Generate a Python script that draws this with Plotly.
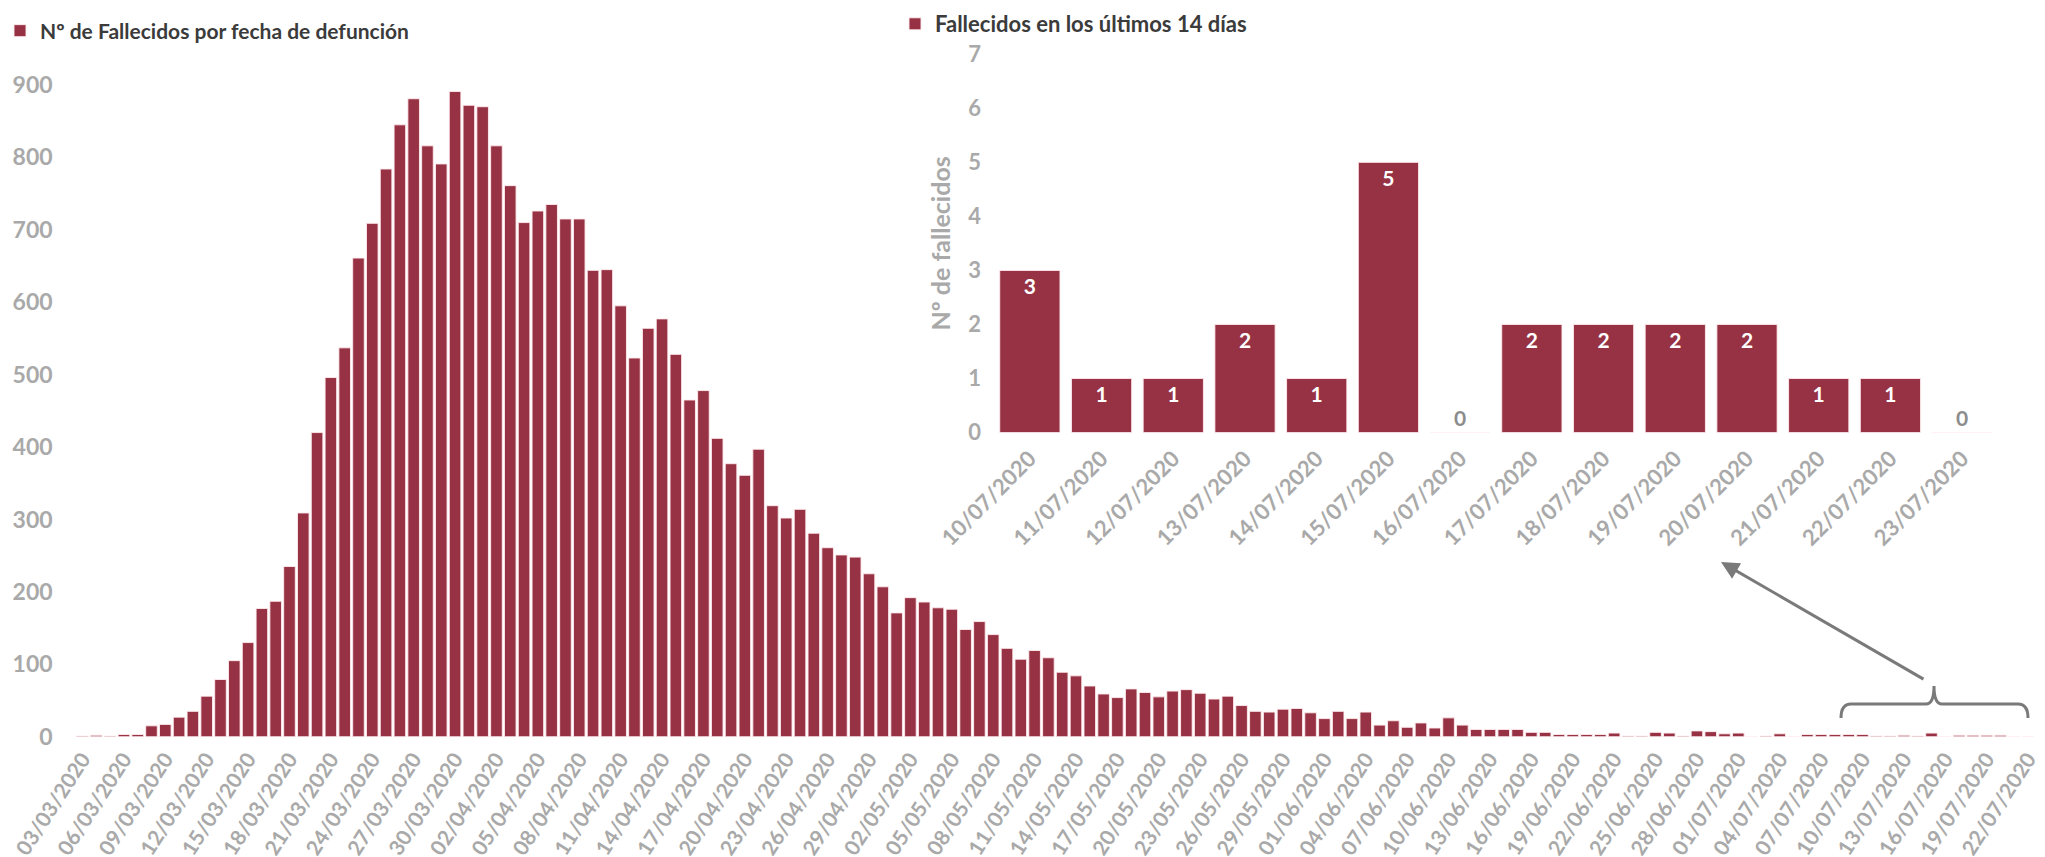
import datetime as dt
import plotly.graph_objects as go

# ---------------- data ----------------
inicio = dt.date(2020, 3, 3)
n_dias = 142
fechas = [(inicio + dt.timedelta(days=i)).strftime("%d/%m/%Y") for i in range(n_dias)]

fallecidos_marzo = [1, 2, 1, 3, 3, 15, 17, 27, 35, 56, 79, 105, 130, 177, 187, 235, 309, 420,
                    496, 537, 661, 709, 784, 845, 881, 816, 791, 891, 872]
fallecidos_abril = [870, 816, 761, 710, 726, 735, 715, 715, 644, 645, 595, 523, 564, 577, 528,
                    465, 478, 412, 377, 361, 397, 319, 302, 314, 281, 261, 251, 248, 225, 207]
fallecidos_mayo = [171, 192, 186, 178, 176, 148, 159, 141, 122, 107, 119, 109, 89, 84, 70, 59,
                   54, 66, 61, 55, 63, 65, 60, 52, 56, 43, 35, 34, 38, 39, 33]
fallecidos_junio = [25, 35, 25, 34, 16, 22, 13, 19, 12, 26, 16, 10, 10, 10, 10, 6, 6, 3, 3, 3,
                    3, 5, 1, 1, 6, 5, 1, 8, 7, 4]
fallecidos_julio = [5, 0, 1, 4, 0, 3, 3, 3, 3, 3, 1, 1, 2, 1, 5, 0, 2, 2, 2, 2, 0, 0]
fallecidos = fallecidos_marzo + fallecidos_abril + fallecidos_mayo + fallecidos_junio + fallecidos_julio

fechas_14 = ["10/07/2020", "11/07/2020", "12/07/2020", "13/07/2020", "14/07/2020",
             "15/07/2020", "16/07/2020", "17/07/2020", "18/07/2020", "19/07/2020",
             "20/07/2020", "21/07/2020", "22/07/2020", "23/07/2020"]
fallecidos_14 = [3, 1, 1, 2, 1, 5, 0, 2, 2, 2, 2, 1, 1, 0]

y_ticks_main = [0, 100, 200, 300, 400, 500, 600, 700, 800, 900]
y_ticks_inset = [0, 1, 2, 3, 4, 5, 6, 7]

# ---------------- style ----------------
W, H = 2045, 857
OFF = 8  # page body margin
BAR = "#963243"
GREY = "#a9a9a9"
DARK = "#3b3b3b"
FONT = "Lato"


def px_x(v):
    return (v - OFF) / W


def px_y(v):
    return 1 - (v - OFF) / H


fig = go.Figure()

fig.add_trace(go.Bar(
    x=fechas, y=fallecidos, name="Nº de Fallecidos por fecha de defunción",
    marker=dict(color=BAR, line=dict(color="rgba(255,235,238,0.9)", width=1)),
    xaxis="x", yaxis="y", legend="legend", hoverinfo="x+y",
))

txt_pos = ["outside" if v == 0 else "inside" for v in fallecidos_14]
txt_col = ["#8c8c8c" if v == 0 else "white" for v in fallecidos_14]
fig.add_trace(go.Bar(
    x=fechas_14, y=fallecidos_14, name="Fallecidos en los últimos 14 días",
    marker=dict(color=BAR, line=dict(color="rgba(255,235,238,0.9)", width=1)),
    text=[str(v) for v in fallecidos_14], textposition=txt_pos,
    insidetextanchor="end", textangle=0,
    textfont=dict(color=txt_col, size=21, family=FONT, weight="bold"),
    cliponaxis=False,
    xaxis="x2", yaxis="y2", legend="legend2",
))

fig.update_layout(
    width=W, height=H,
    margin=dict(l=0, r=0, t=0, b=0, autoexpand=False),
    paper_bgcolor="white", plot_bgcolor="white",
    font=dict(family=FONT, color=GREY),
    bargap=0.16,
    showlegend=True,
    legend=dict(x=px_x(0), y=px_y(31), xanchor="left", yanchor="middle",
                font=dict(size=21, color=DARK, family=FONT, weight="bold"),
                itemwidth=30, bgcolor="rgba(0,0,0,0)"),
    legend2=dict(x=px_x(895), y=px_y(24), xanchor="left", yanchor="middle",
                 font=dict(size=22, color=DARK, family=FONT, weight="bold"),
                 itemwidth=30, bgcolor="rgba(0,0,0,0)"),
    xaxis=dict(domain=[px_x(75.6), px_x(2035)], type="category", automargin=False,
               categoryorder="array", categoryarray=fechas,
               range=[-0.5, n_dias - 0.5],
               tickmode="array", tickvals=fechas[::3], ticktext=fechas[::3],
               tickangle=-57, showgrid=False, zeroline=False, showline=False,
               ticks="", ticklabelstandoff=5,
               tickfont=dict(size=21, color=GREY, family=FONT, weight="bold")),
    yaxis=dict(domain=[px_y(736.7), px_y(85)], range=[0, 900], automargin=False,
               tickmode="array", tickvals=y_ticks_main,
               showgrid=False, zeroline=False, showline=False, ticks="",
               ticklabelstandoff=22,
               tickfont=dict(size=23, color=GREY, family=FONT, weight="bold")),
    xaxis2=dict(domain=[px_x(994), px_x(1998)], type="category", automargin=False,
                categoryorder="array", categoryarray=fechas_14,
                range=[-0.5, 13.5], anchor="y2",
                tickangle=-45, showgrid=False, zeroline=False, showline=False,
                ticks="", ticklabelstandoff=8,
                tickfont=dict(size=22, color=GREY, family=FONT, weight="bold")),
    yaxis2=dict(domain=[px_y(432.5), px_y(54.3)], range=[0, 7], anchor="x2",
                automargin=False,
                tickmode="array", tickvals=y_ticks_inset,
                showgrid=False, zeroline=False, showline=False, ticks="",
                ticklabelstandoff=12,
                title=dict(text="Nº de fallecidos", standoff=10,
                           font=dict(size=25, color=GREY, family=FONT, weight="bold")),
                tickfont=dict(size=22, color=GREY, family=FONT, weight="bold")),
)

# bracket over the last 14 days on the main chart
bx0, bx1, by_top, by_bot, bmid, btip = 1841, 2028, 704, 718, 1934, 686
path = (f"M {px_x(bx0)} {px_y(by_bot)} Q {px_x(bx0)} {px_y(by_top)} {px_x(bx0 + 10)} {px_y(by_top)} "
        f"L {px_x(bmid - 8)} {px_y(by_top)} Q {px_x(bmid)} {px_y(by_top)} {px_x(bmid)} {px_y(btip)} "
        f"Q {px_x(bmid)} {px_y(by_top)} {px_x(bmid + 8)} {px_y(by_top)} "
        f"L {px_x(bx1 - 10)} {px_y(by_top)} Q {px_x(bx1)} {px_y(by_top)} {px_x(bx1)} {px_y(by_bot)}")
fig.add_shape(type="path", path=path, xref="paper", yref="paper",
              line=dict(color="#7a7a7a", width=3))

fig.add_annotation(x=px_x(1721), y=px_y(562), ax=204, ay=118,
                   xref="paper", yref="paper", axref="pixel", ayref="pixel",
                   text="", showarrow=True, arrowhead=2, arrowsize=1.2,
                   arrowwidth=3, arrowcolor="#7a7a7a")

fig.write_html("out.html")
